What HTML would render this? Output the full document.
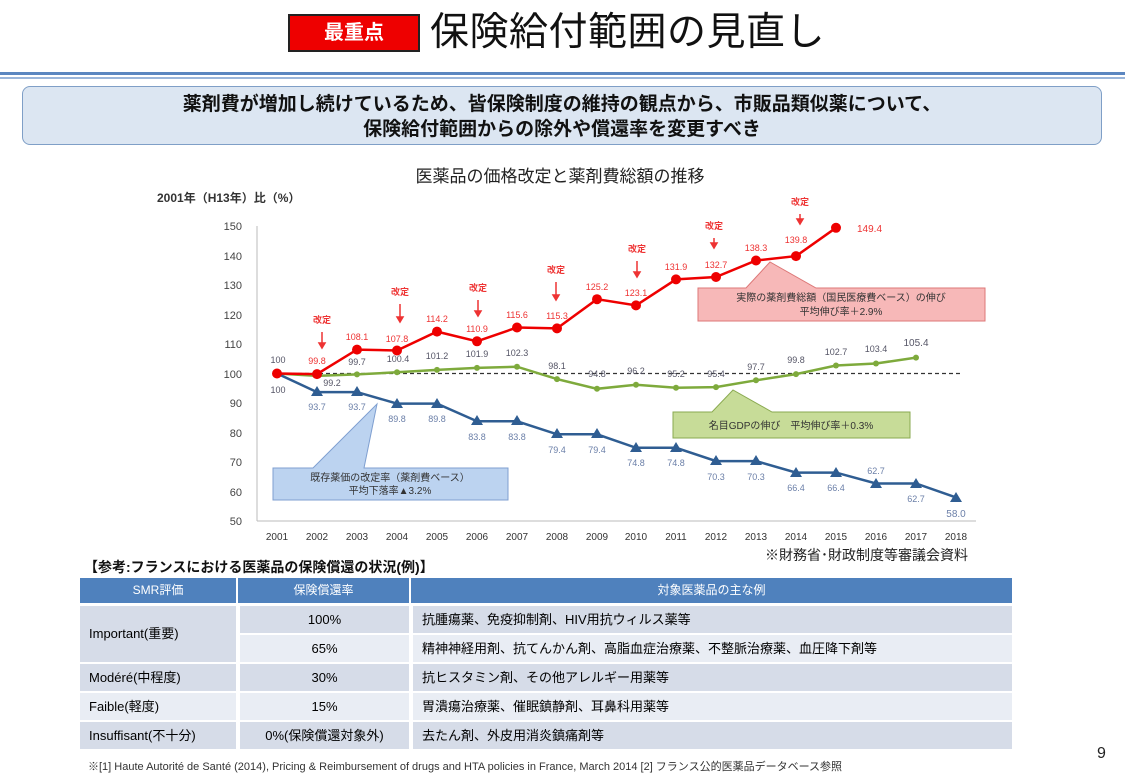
<!DOCTYPE html>
<html><head><meta charset="utf-8"><style>
body{margin:0;width:1125px;height:768px;background:#fff;overflow:hidden;font-family:"Liberation Sans","Noto Sans CJK JP",sans-serif;position:relative}
.a{position:absolute}
</style></head><body>
<div class="a" style="left:288px;top:14px;width:132px;height:38px;background:#e00;border:2px solid #222;box-sizing:border-box;color:#fff;font-weight:bold;font-size:20px;line-height:34px;text-align:center">最重点</div>
<div class="a" style="left:430px;top:8px;font-size:39px;line-height:50px;color:#111;letter-spacing:0.5px">保険給付範囲の見直し</div>
<div class="a" style="left:0;top:72px;width:1125px;height:3px;background:#5b86c0"></div>
<div class="a" style="left:0;top:77px;width:1125px;height:2px;background:#9ab5da"></div>
<div class="a" style="left:22px;top:86px;width:1080px;height:59px;box-sizing:border-box;background:#dce6f2;border:1.5px solid #7f9fc7;border-radius:8px;text-align:center;font-weight:bold;font-size:19px;line-height:25px;padding-top:5px;color:#111">薬剤費が増加し続けているため、皆保険制度の維持の観点から、市販品類似薬について、<br>保険給付範囲からの除外や償還率を変更すべき</div>
<svg class="a" style="left:0;top:0" width="1125" height="560" font-family="Liberation Sans, Noto Sans CJK JP, sans-serif">
<text x="560" y="182" font-size="17" text-anchor="middle" fill="#222">医薬品の価格改定と薬剤費総額の推移</text>
<text x="157" y="202" font-size="12" font-weight="bold" fill="#333">2001年（H13年）比（%）</text>
<g font-size="11" fill="#444" text-anchor="end">
<text x="242" y="230">150</text><text x="242" y="260">140</text><text x="242" y="289">130</text><text x="242" y="319">120</text><text x="242" y="348">110</text><text x="242" y="378">100</text><text x="242" y="407">90</text><text x="242" y="437">80</text><text x="242" y="466">70</text><text x="242" y="496">60</text><text x="242" y="525">50</text></g>
<line x1="257" y1="226" x2="257" y2="521" stroke="#bbb"/><line x1="257" y1="521" x2="976" y2="521" stroke="#bbb"/>
<g font-size="10" fill="#333" text-anchor="middle">
<text x="277" y="540">2001</text><text x="317" y="540">2002</text><text x="357" y="540">2003</text><text x="397" y="540">2004</text><text x="437" y="540">2005</text><text x="477" y="540">2006</text><text x="517" y="540">2007</text><text x="557" y="540">2008</text><text x="597" y="540">2009</text><text x="636" y="540">2010</text><text x="676" y="540">2011</text><text x="716" y="540">2012</text><text x="756" y="540">2013</text><text x="796" y="540">2014</text><text x="836" y="540">2015</text><text x="876" y="540">2016</text><text x="916" y="540">2017</text><text x="956" y="540">2018</text></g>
<line x1="277" y1="373.5" x2="960" y2="373.5" stroke="#333" stroke-dasharray="4,3" stroke-width="1.3"/>
<path d="M273,468 H313 L377,404 L364,468 H508 V500 H273 Z" fill="#bcd3f0" stroke="#7f9fd0"/>
<text x="390" y="481" font-size="10" fill="#333" text-anchor="middle">既存薬価の改定率（薬剤費ベース）</text>
<text x="390" y="494" font-size="10" fill="#333" text-anchor="middle">平均下落率▲3.2%</text>
<path d="M698,288 H746 L770,262 L816,288 H985 V321 H698 Z" fill="#f7b8b8" stroke="#d77"/>
<text x="841" y="301" font-size="10" fill="#333" text-anchor="middle">実際の薬剤費総額（国民医療費ベース）の伸び</text>
<text x="841" y="315" font-size="10" fill="#333" text-anchor="middle">平均伸び率＋2.9%</text>
<path d="M673,412 H712 L733,390 L772,412 H910 V438 H673 Z" fill="#c7dc98" stroke="#8aaa50"/>
<text x="791" y="429" font-size="10" fill="#333" text-anchor="middle">名目GDPの伸び　平均伸び率＋0.3%</text>
<polyline fill="none" stroke="#7eaa3c" stroke-width="2.5" points="277,373.5 317,375.9 357,374.4 397,372.3 437,369.9 477,367.9 517,366.7 557,379.1 597,388.8 636,384.7 676,387.7 716,387.1 756,380.3 796,374.1 836,365.5 876,363.5 916,357.6"/>
<g fill="#7eaa3c"><circle cx="317" cy="375.9" r="3"/><circle cx="357" cy="374.4" r="3"/><circle cx="397" cy="372.3" r="3"/><circle cx="437" cy="369.9" r="3"/><circle cx="477" cy="367.9" r="3"/><circle cx="517" cy="366.7" r="3"/><circle cx="557" cy="379.1" r="3"/><circle cx="597" cy="388.8" r="3"/><circle cx="636" cy="384.7" r="3"/><circle cx="676" cy="387.7" r="3"/><circle cx="716" cy="387.1" r="3"/><circle cx="756" cy="380.3" r="3"/><circle cx="796" cy="374.1" r="3"/><circle cx="836" cy="365.5" r="3"/><circle cx="876" cy="363.5" r="3"/><circle cx="916" cy="357.6" r="3"/></g>
<polyline fill="none" stroke="#2f5d92" stroke-width="2.5" points="277,373.5 317,392.1 357,392.1 397,403.6 437,403.6 477,421.3 517,421.3 557,434.3 597,434.3 636,447.8 676,447.8 716,461.1 756,461.1 796,472.6 836,472.6 876,483.5 916,483.5 956,497.4"/>
<g fill="#2f5d92"><path d="M317,386l6,10h-12z M357,386l6,10h-12z M397,398l6,10h-12z M437,398l6,10h-12z M477,415l6,10h-12z M517,415l6,10h-12z M557,428l6,10h-12z M597,428l6,10h-12z M636,442l6,10h-12z M676,442l6,10h-12z M716,455l6,10h-12z M756,455l6,10h-12z M796,467l6,10h-12z M836,467l6,10h-12z M876,478l6,10h-12z M916,478l6,10h-12z M956,492l6,10h-12z"/></g>
<polyline fill="none" stroke="#e00" stroke-width="2.5" points="277,373.5 317,374.1 357,349.6 397,350.5 437,331.6 477,341.3 517,327.5 557,328.4 597,299.2 636,305.4 676,279.4 716,277 756,260.5 796,256.1 836,227.8"/>
<g fill="#e00"><circle cx="277" cy="373.5" r="5"/><circle cx="317" cy="374.1" r="5"/><circle cx="357" cy="349.6" r="5"/><circle cx="397" cy="350.5" r="5"/><circle cx="437" cy="331.6" r="5"/><circle cx="477" cy="341.3" r="5"/><circle cx="517" cy="327.5" r="5"/><circle cx="557" cy="328.4" r="5"/><circle cx="597" cy="299.2" r="5"/><circle cx="636" cy="305.4" r="5"/><circle cx="676" cy="279.4" r="5"/><circle cx="716" cy="277" r="5"/><circle cx="756" cy="260.5" r="5"/><circle cx="796" cy="256.1" r="5"/><circle cx="836" cy="227.8" r="5"/></g>
<g font-size="9" fill="#e33" text-anchor="middle">
<text x="317" y="364">99.8</text><text x="357" y="340">108.1</text><text x="397" y="342">107.8</text><text x="437" y="322">114.2</text><text x="477" y="332">110.9</text><text x="517" y="318">115.6</text><text x="557" y="319">115.3</text><text x="597" y="290">125.2</text><text x="636" y="296">123.1</text><text x="676" y="270">131.9</text><text x="716" y="268">132.7</text><text x="756" y="251">138.3</text><text x="796" y="243">139.8</text><text x="857" y="232" font-size="10" text-anchor="start">149.4</text></g>
<g font-size="9" fill="#e33" text-anchor="middle" font-weight="bold">
<text x="322" y="323">改定</text><text x="400" y="295">改定</text><text x="478" y="291">改定</text><text x="556" y="273">改定</text><text x="637" y="252">改定</text><text x="714" y="229">改定</text><text x="800" y="205">改定</text></g>
<g stroke="#e33" stroke-width="1.5" fill="#e33">
<line x1="322" y1="332" x2="322" y2="344"/><path d="M319,343h6l-3,5z"/>
<line x1="400" y1="304" x2="400" y2="318"/><path d="M397,317h6l-3,5z"/>
<line x1="478" y1="300" x2="478" y2="312"/><path d="M475,311h6l-3,5z"/>
<line x1="556" y1="282" x2="556" y2="296"/><path d="M553,295h6l-3,5z"/>
<line x1="637" y1="261" x2="637" y2="273"/><path d="M634,272h6l-3,5z"/>
<line x1="714" y1="238" x2="714" y2="244"/><path d="M711,243h6l-3,5z"/>
<line x1="800" y1="214" x2="800" y2="220"/><path d="M797,219h6l-3,5z"/></g>
<g font-size="9" fill="#556" text-anchor="middle">
<text x="278" y="363">100</text><text x="278" y="393">100</text>
<text x="332" y="386">99.2</text><text x="357" y="365">99.7</text><text x="398" y="362">100.4</text><text x="437" y="359">101.2</text><text x="477" y="357">101.9</text><text x="517" y="356">102.3</text><text x="557" y="369">98.1</text><text x="597" y="377">94.8</text><text x="636" y="374">96.2</text><text x="676" y="377">95.2</text><text x="716" y="377">95.4</text><text x="756" y="370">97.7</text><text x="796" y="363">99.8</text><text x="836" y="355">102.7</text><text x="876" y="352">103.4</text><text x="916" y="346" font-size="10">105.4</text></g>
<g font-size="9" fill="#6b7fa8" text-anchor="middle">
<text x="317" y="410">93.7</text><text x="357" y="410">93.7</text><text x="397" y="422">89.8</text><text x="437" y="422">89.8</text><text x="477" y="440">83.8</text><text x="517" y="440">83.8</text><text x="557" y="453">79.4</text><text x="597" y="453">79.4</text><text x="636" y="466">74.8</text><text x="676" y="466">74.8</text><text x="716" y="480">70.3</text><text x="756" y="480">70.3</text><text x="796" y="491">66.4</text><text x="836" y="491">66.4</text><text x="876" y="474">62.7</text><text x="916" y="502">62.7</text><text x="956" y="517" font-size="10">58.0</text></g>
</svg>
<div class="a" style="left:765px;top:545px;font-size:14px;color:#222">※財務省･財政制度等審議会資料</div>
<div class="a" style="left:84px;top:557px;font-size:14px;font-weight:bold;color:#111">【参考:フランスにおける医薬品の保険償還の状況(例)】</div>
<div class="a" style="left:80px;top:578px;width:932px;height:25px;background:#4f81bd"></div>
<div class="a" style="left:80px;top:578px;width:158px;height:25px;line-height:25px;text-align:center;color:#fff;font-size:12px;border-right:2px solid #fff;box-sizing:border-box">SMR評価</div>
<div class="a" style="left:238px;top:578px;width:173px;height:25px;line-height:25px;text-align:center;color:#fff;font-size:12px;border-right:2px solid #fff;box-sizing:border-box">保険償還率</div>
<div class="a" style="left:411px;top:578px;width:601px;height:25px;line-height:25px;text-align:center;color:#fff;font-size:12px">対象医薬品の主な例</div>
<div class="a" style="left:80px;top:606px;width:156px;height:56px;background:#d6dce8;line-height:56px;padding-left:9px;box-sizing:border-box;font-size:13px">Important(重要)</div>
<div class="a" style="left:240px;top:606px;width:169px;height:27px;background:#d6dce8;line-height:27px;text-align:center;font-size:13px">100%</div>
<div class="a" style="left:413px;top:606px;width:599px;height:27px;background:#d6dce8;line-height:27px;padding-left:9px;box-sizing:border-box;font-size:13px">抗腫瘍薬、免疫抑制剤、HIV用抗ウィルス薬等</div>
<div class="a" style="left:240px;top:635px;width:169px;height:27px;background:#e9edf4;line-height:27px;text-align:center;font-size:13px">65%</div>
<div class="a" style="left:413px;top:635px;width:599px;height:27px;background:#e9edf4;line-height:27px;padding-left:9px;box-sizing:border-box;font-size:13px">精神神経用剤、抗てんかん剤、高脂血症治療薬、不整脈治療薬、血圧降下剤等</div>
<div class="a" style="left:80px;top:664px;width:156px;height:27px;background:#d6dce8;line-height:27px;padding-left:9px;box-sizing:border-box;font-size:13px">Modéré(中程度)</div>
<div class="a" style="left:240px;top:664px;width:169px;height:27px;background:#d6dce8;line-height:27px;text-align:center;font-size:13px">30%</div>
<div class="a" style="left:413px;top:664px;width:599px;height:27px;background:#d6dce8;line-height:27px;padding-left:9px;box-sizing:border-box;font-size:13px">抗ヒスタミン剤、その他アレルギー用薬等</div>
<div class="a" style="left:80px;top:693px;width:156px;height:27px;background:#e9edf4;line-height:27px;padding-left:9px;box-sizing:border-box;font-size:13px">Faible(軽度)</div>
<div class="a" style="left:240px;top:693px;width:169px;height:27px;background:#e9edf4;line-height:27px;text-align:center;font-size:13px">15%</div>
<div class="a" style="left:413px;top:693px;width:599px;height:27px;background:#e9edf4;line-height:27px;padding-left:9px;box-sizing:border-box;font-size:13px">胃潰瘍治療薬、催眠鎮静剤、耳鼻科用薬等</div>
<div class="a" style="left:80px;top:722px;width:156px;height:27px;background:#d6dce8;line-height:27px;padding-left:9px;box-sizing:border-box;font-size:13px">Insuffisant(不十分)</div>
<div class="a" style="left:240px;top:722px;width:169px;height:27px;background:#d6dce8;line-height:27px;text-align:center;font-size:13px">0%(保険償還対象外)</div>
<div class="a" style="left:413px;top:722px;width:599px;height:27px;background:#d6dce8;line-height:27px;padding-left:9px;box-sizing:border-box;font-size:13px">去たん剤、外皮用消炎鎮痛剤等</div>
<div class="a" style="left:88px;top:758px;font-size:11px;color:#333;white-space:nowrap">※[1] Haute Autorité de Santé (2014), Pricing &amp; Reimbursement of drugs and HTA policies in France, March 2014 [2] フランス公的医薬品データベース参照</div>
<div class="a" style="left:1097px;top:745px;font-size:16px;color:#222">9</div>
</body></html>
